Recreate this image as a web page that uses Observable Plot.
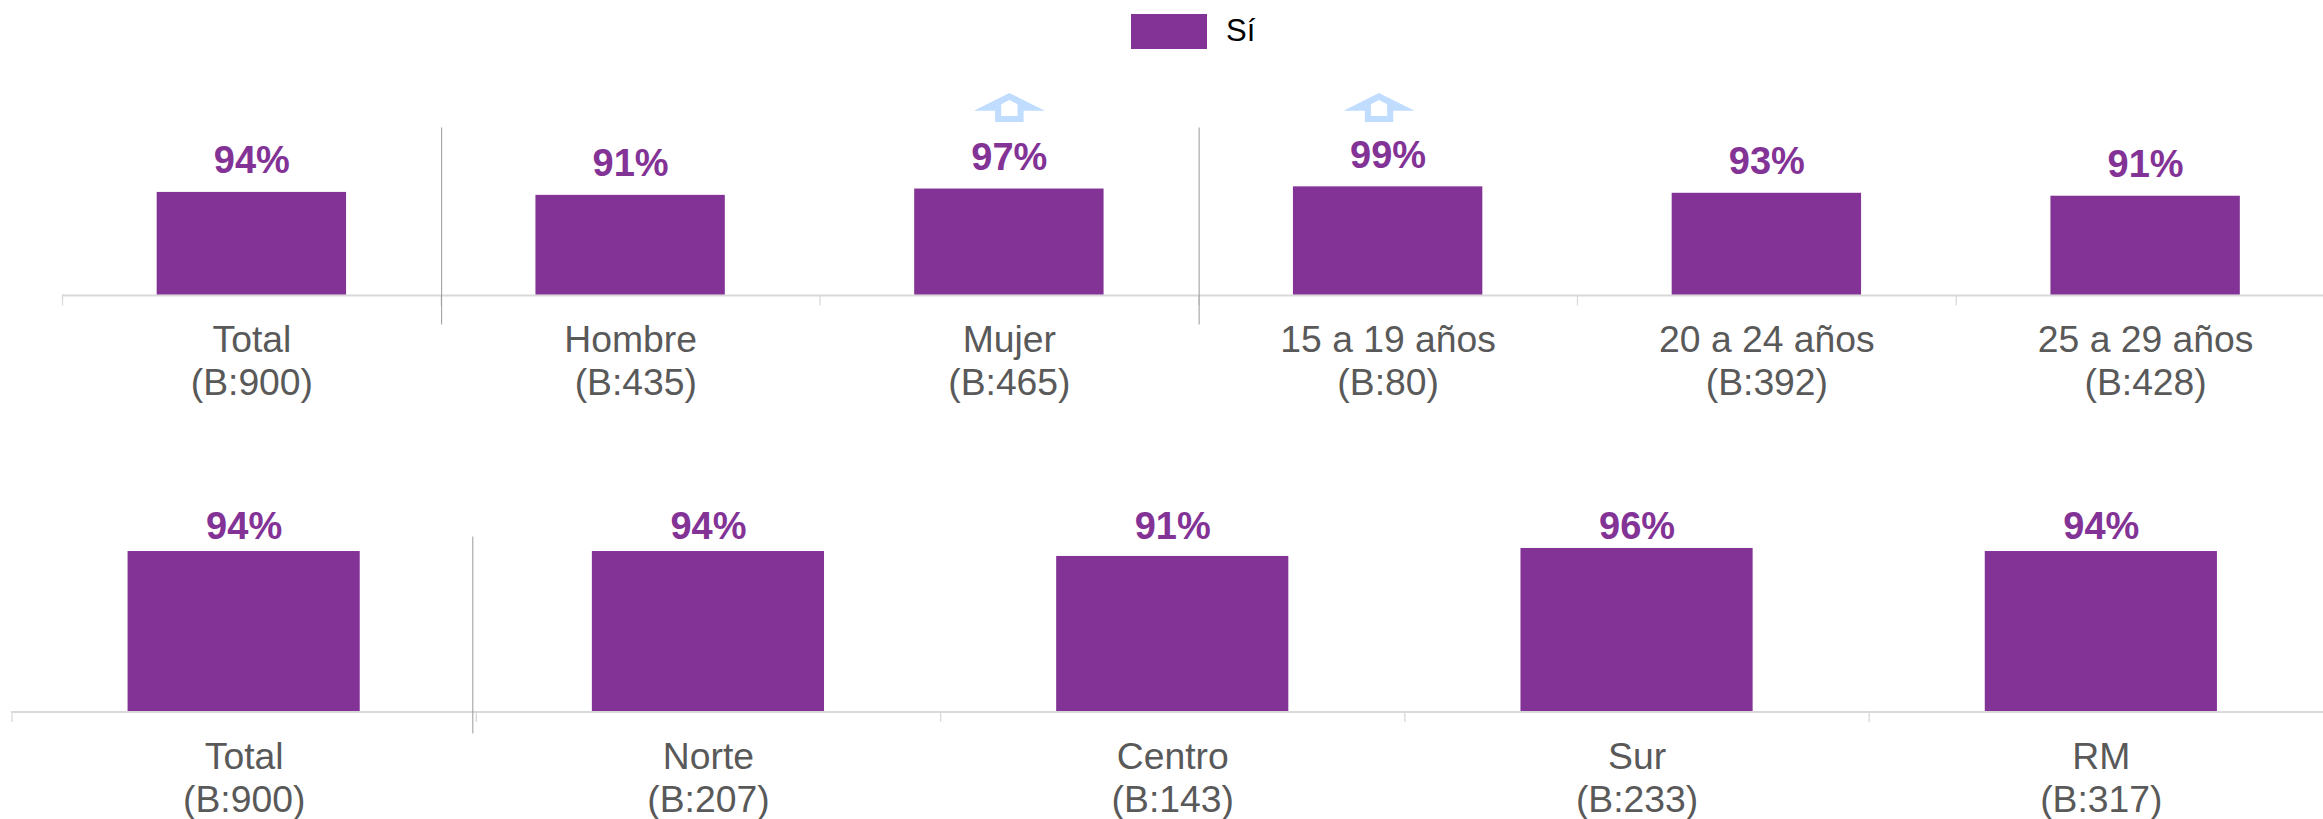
<!DOCTYPE html>
<html lang="es">
<head>
<meta charset="utf-8">
<script src="https://cdn.jsdelivr.net/npm/d3@7"></script>
<script src="https://cdn.jsdelivr.net/npm/@observablehq/plot@0.6"></script>
<style>
  html, body { margin: 0; padding: 0; background: #fff; overflow: hidden; }
  #legend { position: relative; height: 60px; font-family: "Liberation Sans", Arial, sans-serif; }
  #swatch { position: absolute; left: 1131px; top: 14px; width: 76px; height: 35px; background: #833296; }
  #legendText { position: absolute; left: 1226px; top: 13px; line-height: 35px; font-size: 31px; color: #000; }
  svg { display: block; }
</style>
</head>
<body>
<div id="legend"><div id="swatch"></div><div id="legendText">Sí</div></div>
<div id="charts"></div>
<script>
const seriesName = "Sí";

// Top panel
const topCategories = ["Total", "Hombre", "Mujer", "15 a 19 años", "20 a 24 años", "25 a 29 años"];
const topBases = ["(B:900)", "\u00a0(B:435)", "(B:465)", "(B:80)", "(B:392)", "(B:428)"];
const topValues = [94.1, 91.4, 97.2, 99.2, 93.3, 90.6];
const topSeparators = [1.001, 3.001];
const topArrows = [2.5, 3.476];

// Bottom panel
const bottomCategories = ["Total", "Norte", "Centro", "Sur", "RM"];
const bottomBases = ["(B:900)", "(B:207)", "(B:143)", "(B:233)", "(B:317)"];
const bottomValues = [94.1, 94.1, 91.2, 95.9, 94.1];
const bottomSeparators = [0.9925];

const PURPLE = "#833296", LABEL = "#595959", AXIS = "#d9d9d9", SEP = "#999999", ARROW = "#c0dcff";

// Hollow up-arrow, in units of its half-width; inner contour wound the other way to cut the hole.
const hollowArrow = {
  draw(ctx, size) {
    const r = Math.sqrt(size / Math.PI);
    const p = (pts) => {
      pts.forEach(([x, y], i) => i ? ctx.lineTo(x * r, y * r) : ctx.moveTo(x * r, y * r));
      ctx.closePath();
    };
    p([[0, -0.41], [1, 0.09], [0.4, 0.09], [0.4, 0.41], [-0.4, 0.41], [-0.4, 0.09], [-1, 0.09]]);
    p([[0, -0.21], [-0.23, -0.09], [-0.23, 0.24], [0.23, 0.24], [0.23, -0.09]]);
  }
};

function panel({categories, bases, values, separators, arrows, height, marginBottom, yTop, tickPadding, xRange, sepY, tickDepth, valueY, valueDy}) {
  const rows = categories.map((c, i) => ({c, i, base: bases[i], v: values[i]}));
  const edges = categories.map((_, i) => i);
  return Plot.plot({
    width: 2323,
    height,
    marginTop: 0,
    marginLeft: 0,
    marginRight: 0,
    marginBottom,
    style: {fontFamily: '"Liberation Sans", Arial, sans-serif', background: "#fff", overflow: "hidden"},
    x: {type: "linear", domain: [0, categories.length], range: xRange, axis: null},
    y: {domain: [0, yTop], axis: null},
    marks: [
      Plot.ruleY([0], {x1: 0, x2: categories.length, stroke: AXIS, strokeWidth: 2, dy: 0.5}),
      Plot.ruleX(edges, {y1: 0, y2: tickDepth, stroke: AXIS, strokeWidth: 1.3}),
      Plot.rectY(rows, {x1: d => d.i + 0.25, x2: d => d.i + 0.75, y1: 0, y2: "v", fill: PURPLE}),
      Plot.ruleX(separators, {y1: sepY[0], y2: sepY[1], stroke: SEP, strokeWidth: 1}),
      Plot.text(rows, {
        x: d => d.i + 0.5,
        y: valueY ? () => valueY : "v",
        dy: valueDy,
        text: d => `${Math.round(d.v)}%`,
        lineAnchor: "bottom",
        fill: PURPLE,
        fontSize: 38,
        fontWeight: "bold"
      }),
      Plot.dot(arrows, {x: d => d, y: () => 172, r: 35.5, symbol: hollowArrow, fill: ARROW, stroke: "none"}),
      Plot.axisX(rows.map(d => d.i + 0.5), {
        anchor: "bottom",
        tickSize: 0,
        tickPadding,
        tickFormat: d => `${categories[d - 0.5]}\n${bases[d - 0.5]}`,
        fontSize: 37.3,
        lineHeight: 1.155,
        fill: LABEL,
        label: null
      })
    ]
  });
}

const charts = document.getElementById("charts");
charts.append(panel({
  categories: topCategories, bases: topBases, values: topValues,
  separators: topSeparators, arrows: topArrows,
  height: 350, marginBottom: 115.5, yTop: 215.1, tickPadding: 26.5,
  xRange: [62, 2334.5], sepY: [153.2, -27.5], tickDepth: -10, valueDy: -19
}));
charts.append(panel({
  categories: bottomCategories, bases: bottomBases, values: bottomValues,
  separators: bottomSeparators, arrows: [],
  height: 409, marginBottom: 108, yTop: 177.05, tickPadding: 26.5,
  xRange: [11.5, 2333], sepY: [102.6, -13.2], tickDepth: -6.4, valueY: 101.5, valueDy: 0
}));
</script>
</body>
</html>
